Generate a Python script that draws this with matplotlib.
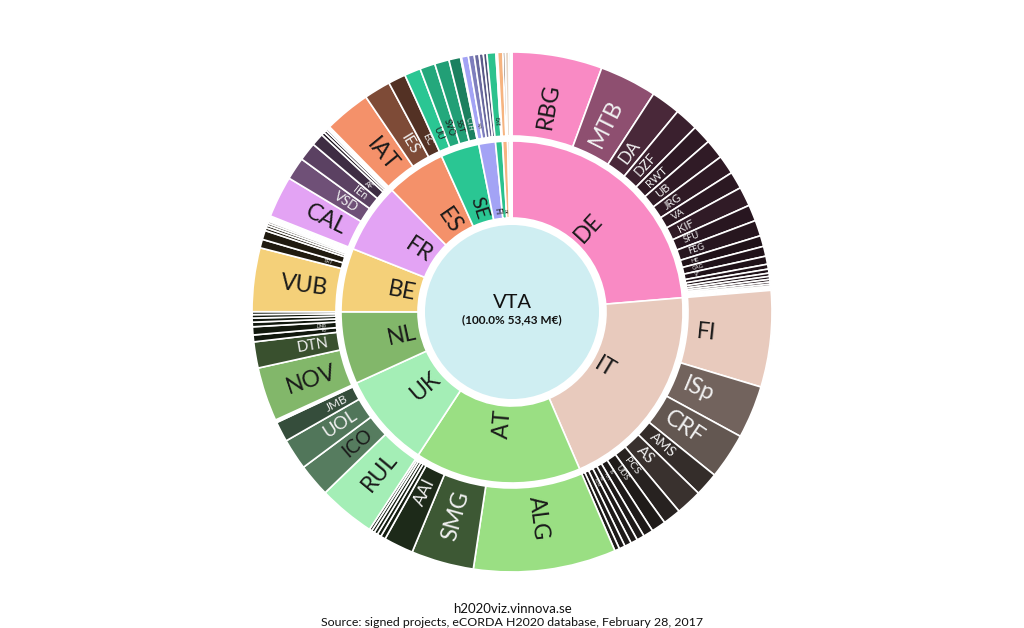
import numpy as np
import matplotlib
matplotlib.use('Agg')
import matplotlib.pyplot as plt
from matplotlib.patches import Wedge, Circle
from matplotlib.colors import to_rgb

plt.rcParams['font.family'] = ['Lato', 'DejaVu Sans']

# share of total funding (%) per participant, grouped by country
de_names = ['RBG', 'MTB', 'DA', 'DZF', 'RWT', 'UB', 'JRG', 'VA', 'KIF', 'SFU', 'FEG', 'HE', 'CAG', 'VF',
            '', '', '', '', '', '', '', '', '', '']
de_vals = [5.56, 3.53, 1.81, 1.44, 1.17, 1.19, 1.17, 1.06, 1.19, 1.00, 0.97, 0.67, 0.61, 0.50,
           0.30, 0.25, 0.20, 0.18, 0.16, 0.14, 0.12, 0.10, 0.08, 0.07]
it_names = ['FI', 'ISp', 'CRF', 'AMS', 'AS', 'PCS', 'UDS', 'IS', 'PDT', 'KS', 'PDM', '', '']
it_vals = [5.94, 3.25, 2.83, 1.47, 1.61, 1.11, 0.89, 0.61, 0.47, 0.42, 0.42, 0.37, 0.30]
at_names = ['ALG', 'SMG', 'AAI', '', '', '', '', '']
at_vals = [8.78, 3.86, 1.83, 0.30, 0.25, 0.22, 0.18, 0.16]
uk_names = ['RUL', 'ICO', 'UOL', 'JMB', '', '']
uk_vals = [3.50, 2.03, 1.92, 1.25, 0.10, 0.07]
nl_names = ['NOV', 'DTN', 'RG', 'DNB', '', '', '', '']
nl_vals = [3.33, 1.61, 0.42, 0.50, 0.28, 0.25, 0.21, 0.18]
be_names = ['VUB', 'ERT', '', '', '', '', '', '', '', '', '']
be_vals = [3.92, 0.53, 0.56, 0.18, 0.16, 0.14, 0.12, 0.10, 0.09, 0.08, 0.07]
fr_names = ['CAL', 'VSD', 'IEn', 'AF', '', '', '', '', '']
fr_vals = [2.56, 1.39, 1.14, 0.78, 0.20, 0.17, 0.12, 0.10, 0.08]
es_names = ['IAT', 'IES', 'EC']
es_vals = [2.86, 1.64, 1.08]
se_names = ['UU', 'SVO', 'SST', 'CTH', '']
se_vals = [1.00, 0.94, 0.89, 0.72, 0.06]
fi_names = ['NO', '', '', '', '']
fi_vals = [0.42, 0.36, 0.30, 0.26, 0.22]
dk_names = ['EXE', '']
dk_vals = [0.55, 0.10]
pt_names = ['', '']
pt_vals = [0.33, 0.14]
el_names = ['']
el_vals = [0.22]
pl_names = ['']
pl_vals = [0.11]
ie_names = ['']
ie_vals = [0.08]

countries = ['DE', 'IT', 'AT', 'UK', 'NL', 'BE', 'FR', 'ES', 'SE', 'FI', 'DK', 'PT', 'EL', 'PL', 'IE']
country_colors = ['#F98AC4', '#E8CABD', '#9ADF83', '#A4EEB6', '#82B76A', '#F4D079', '#E3A3F4',
                  '#F4916A', '#2AC693', '#A3A3F5', '#2CC28D', '#F6B480', '#E9D7C6', '#B7B0A7', '#D9E8D8']
children = [(de_names, de_vals), (it_names, it_vals), (at_names, at_vals), (uk_names, uk_vals),
            (nl_names, nl_vals), (be_names, be_vals), (fr_names, fr_vals), (es_names, es_vals),
            (se_names, se_vals), (fi_names, fi_vals), (dk_names, dk_vals), (pt_names, pt_vals),
            (el_names, el_vals), (pl_names, pl_vals), (ie_names, ie_vals)]

center_name = 'VTA'
center_sub = '(100.0% 53,43 M€)'

# geometry in pixels
CX, CY = 512, 316
R_C = 87
R1 = (94, 171)
R2 = (176, 260)

fig = plt.figure(figsize=(10.24, 6.28), dpi=100)
ax = fig.add_axes([0, 0, 1, 1])
ax.set_xlim(0, 1024)
ax.set_ylim(0, 628)
ax.axis('off')


def add_wedge(a0, a1, ring, color):
    # a0, a1 are clockwise degrees from 12 o'clock
    ax.add_patch(Wedge((CX, CY), ring[1], 90 - a1, 90 - a0, width=ring[1] - ring[0],
                       facecolor=color, edgecolor='white', linewidth=1.2))


def add_label(text, a0, a1, ring, bg, pad, maxpx, factor):
    if not text:
        return
    r = ring[0] + pad
    span = np.radians(a1 - a0)
    px = min(maxpx, r * span * factor, (ring[1] - ring[0] - 2 * pad) / (0.62 * len(text)))
    if px < 3.5:
        return
    mid = (a0 + a1) / 2
    x = CX + r * np.sin(np.radians(mid))
    y = CY + r * np.cos(np.radians(mid))
    if mid < 180:
        rot, ha = 90 - mid, 'left'
    else:
        rot, ha = 270 - mid, 'right'
    rgb = to_rgb(bg)
    lum = 0.299 * rgb[0] + 0.587 * rgb[1] + 0.114 * rgb[2]
    tc = '#1a1a1a' if lum > 0.415 else '#f0f0f0'
    ax.text(x, y, text, rotation=rot, rotation_mode='anchor', ha=ha, va='center',
            fontsize=px * 0.72, color=tc)


total = sum(sum(v) for _, v in children)
scale = 360.0 / total

angle = 0.0
for name, col, (cnames, cvals) in zip(countries, country_colors, children):
    start = angle
    base = np.array(to_rgb(col))
    vmax = max(cvals)
    for i, (cn, cv) in enumerate(zip(cnames, cvals)):
        a1 = angle + cv * scale
        k = 1.0 if i == 0 else 0.9 * cv / vmax
        shade = tuple(base * max(k, 0.13))
        add_wedge(angle, a1, R2, shade)
        add_label(cn, angle, a1, R2, shade, 10, 23, 0.8)
        angle = a1
    add_wedge(start, angle, R1, col)
    add_label(name, start, angle, R1, col, 4, 23, 0.9)

ax.add_patch(Circle((CX, CY), R_C, facecolor='#CFEEF2', edgecolor='none'))
ax.text(CX, CY + 10, center_name, ha='center', va='center', fontsize=14.5, color='#111111')
ax.text(CX, CY - 8, center_sub, ha='center', va='center', fontsize=8.5, fontweight='bold',
        color='#111111')

ax.text(512, 628 - 609, 'h2020viz.vinnova.se', ha='center', va='center', fontsize=9.5, color='#111111')
ax.text(512, 628 - 623, 'Source: signed projects, eCORDA H2020 database, February 28, 2017',
        ha='center', va='center', fontsize=8.9, color='#111111')

fig.savefig('out.png', dpi=100)
